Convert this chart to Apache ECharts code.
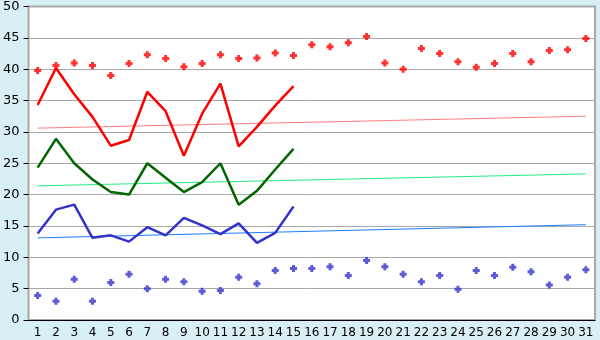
<!DOCTYPE html>
<html>
<head>
<meta charset="utf-8">
<script src="https://cdn.jsdelivr.net/npm/echarts@6/dist/echarts.min.js"></script>
<style>
html,body{margin:0;padding:0;background:#d9eff6;}
#chart{width:600px;height:340px;}
</style>
</head>
<body>
<div id="chart"></div>
<script>
var categories = ['1','2','3','4','5','6','7','8','9','10','11','12','13','14','15','16','17','18','19','20','21','22','23','24','25','26','27','28','29','30','31'];
var yTicks = [0,5,10,15,20,25,30,35,40,45,50];

var redPoints = [39.8,40.6,41.0,40.6,39.0,40.9,42.3,41.7,40.4,40.9,42.3,41.7,41.8,42.6,42.2,43.9,43.6,44.2,45.2,41.0,40.0,43.3,42.5,41.2,40.3,40.9,42.5,41.2,43.0,43.1,44.9];
var redLine = [34.3,40.2,36.0,32.4,27.8,28.7,36.4,33.3,26.2,32.9,37.7,27.7,30.8,34.2,37.3];
var greenLine = [24.3,28.9,25.0,22.4,20.4,20.0,25.0,22.7,20.4,22.0,25.0,18.4,20.6,24.0,27.3];
var blueLine = [13.8,17.6,18.4,13.1,13.5,12.5,14.8,13.5,16.3,15.1,13.7,15.4,12.3,13.9,18.1];
var bluePoints = [3.9,3.0,6.5,3.0,6.0,7.3,5.0,6.5,6.1,4.6,4.7,6.8,5.8,7.9,8.2,8.2,8.5,7.1,9.5,8.5,7.3,6.1,7.1,4.9,7.9,7.1,8.4,7.7,5.6,6.8,8.0];

// trend lines: value at first and last day
var redTrend = [30.6, 32.5];
var greenTrend = [21.4, 23.3];
var blueTrend = [13.1, 15.2];

function trend(t){ return [[categories[0], t[0]], [categories[categories.length-1], t[1]]]; }

var plusPath = 'path://M2,0 L5,0 L5,2 L7,2 L7,5 L5,5 L5,7 L2,7 L2,5 L0,5 L0,2 L2,2 Z';

var chart = echarts.init(document.getElementById('chart'), null, {renderer:'canvas'});
chart.setOption({
  backgroundColor: '#d9eff6',
  animation: false,
  grid: {left: 26, top: 5, right: 5, bottom: 20, show: true, backgroundColor: '#ffffff', borderColor: '#a8a8a8', borderWidth: 2},
  xAxis: {
    type: 'category', data: categories, boundaryGap: true,
    axisLine: {lineStyle: {color: '#000', width: 1}},
    axisTick: {alignWithLabel: true, length: 5, lineStyle: {color: '#000'}},
    axisLabel: {color: '#000', fontSize: 12, fontFamily: 'DejaVu Sans', margin: 7, interval: 0},
    splitLine: {show: false}
  },
  yAxis: {
    type: 'value', min: yTicks[0], max: yTicks[yTicks.length-1], interval: 5,
    axisLine: {show: true, lineStyle: {color: '#a8a8a8', width: 1}},
    axisTick: {show: true, length: 5, lineStyle: {color: '#000'}},
    axisLabel: {color: '#000', fontSize: 13, fontFamily: 'DejaVu Sans', margin: 9},
    splitLine: {lineStyle: {color: '#a8a8a8', width: 1}}
  },
  series: [
    {type: 'line', data: trend(redTrend), symbol: 'none', lineStyle: {color: '#ff8080', width: 1}, z: 1},
    {type: 'line', data: trend(greenTrend), symbol: 'none', lineStyle: {color: '#22ee88', width: 1}, z: 1},
    {type: 'line', data: trend(blueTrend), symbol: 'none', lineStyle: {color: '#1a80ff', width: 1}, z: 1},
    {type: 'line', data: redLine, symbol: 'none', lineStyle: {color: '#ff0000', width: 2.5}, z: 3},
    {type: 'line', data: greenLine, symbol: 'none', lineStyle: {color: '#006600', width: 2.5}, z: 3},
    {type: 'line', data: blueLine, symbol: 'none', lineStyle: {color: '#3333cc', width: 2.5}, z: 3},
    {type: 'scatter', data: redPoints, symbol: plusPath, symbolSize: 7, itemStyle: {color: '#ff0000'}, z: 4},
    {type: 'scatter', data: bluePoints, symbol: plusPath, symbolSize: 7, itemStyle: {color: '#3333cc'}, z: 4}
  ]
});
</script>
</body>
</html>
